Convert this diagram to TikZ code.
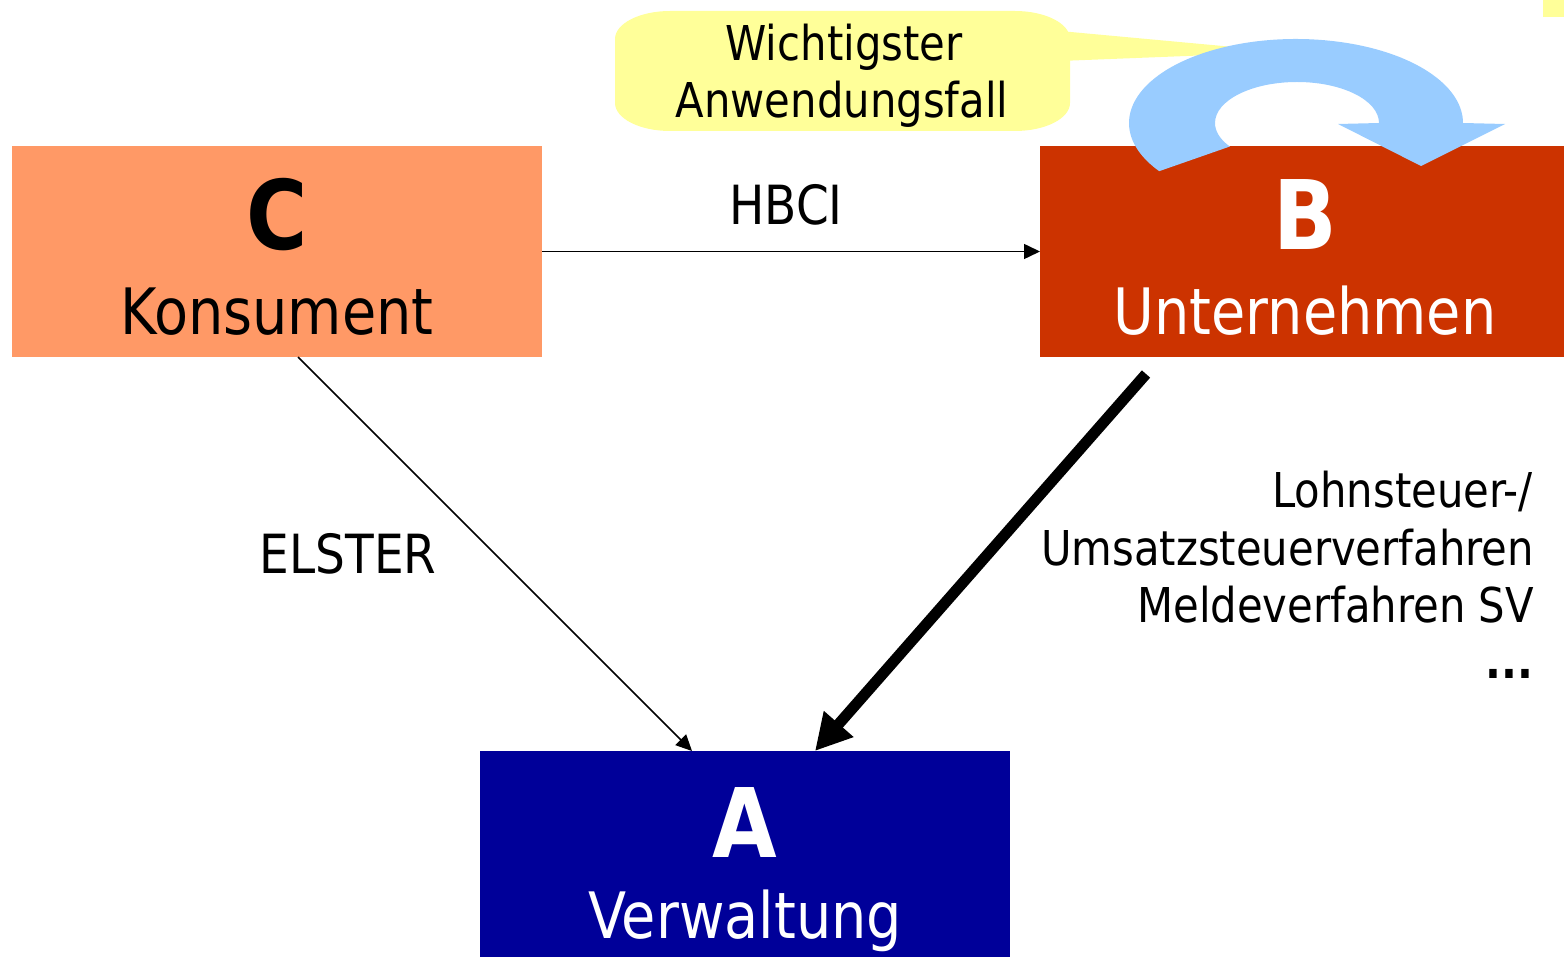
\documentclass[tikz,border=0pt]{standalone}
\usepackage{fontspec}
\setmainfont{DejaVu Sans}[FakeStretch=0.87]
\usetikzlibrary{arrows.meta}
\definecolor{konscol}{HTML}{FF9966}
\definecolor{untcol}{HTML}{CC3300}
\definecolor{vercol}{HTML}{000099}
\definecolor{notecol}{HTML}{FFFF99}
\definecolor{loopcol}{HTML}{99CCFF}
\begin{document}
\begin{tikzpicture}[x=1pt,y=1pt,
  box/.style={inner sep=0pt, outer sep=0pt, draw=none, minimum width=#1},
  lbl/.style={inner sep=0pt, outer sep=0pt, anchor=base},
  rlbl/.style={inner sep=0pt, outer sep=0pt, anchor=base east},
  big/.style={font=\bfseries\fontsize{96}{100}\selectfont},
  mid/.style={font=\fontsize{64}{70}\selectfont},
  sml/.style={font=\fontsize{54}{60}\selectfont},
  tiny/.style={font=\fontsize{48}{54}\selectfont},
  thinarrow/.style={line width=1.5pt, -{Triangle[length=16pt,width=15pt]}},
  thickarrow/.style={line width=11pt, -{Triangle[length=36pt,width=37pt]}}]
\useasboundingbox (0,0) rectangle (1564,-957);
% corner mark
\fill[notecol] (1543,0) rectangle (1564,-17);
% boxes
\node[box=530pt, minimum height=211pt, fill=konscol] (C) at (277,-251.5) {};
\node[box=524pt, minimum height=211pt, fill=untcol] (B) at (1302,-251.5) {};
\node[box=530pt, minimum height=206pt, fill=vercol] (A) at (745,-854) {};
% box texts
\node[lbl, big] (Cl) at (277,-250) {C};
\node[lbl, mid] (Ct) at (277,-335) {Konsument};
\node[lbl, big, text=white] (Bl) at (1305,-250) {B};
\node[lbl, mid, text=white] (Bt) at (1305,-335) {Unternehmen};
\node[lbl, big, text=white] (Al) at (745,-857) {A};
\node[lbl, mid, text=white] (At) at (745,-938) {Verwaltung};
% callout
\fill[notecol] (670,-11) -- (1015,-11)
  arc[start angle=90, end angle=0, x radius=55pt, y radius=28pt]
  -- (1070,-103)
  arc[start angle=0, end angle=-90, x radius=55pt, y radius=28pt]
  -- (670,-131)
  arc[start angle=-90, end angle=-180, x radius=55pt, y radius=28pt]
  -- (615,-39)
  arc[start angle=180, end angle=90, x radius=55pt, y radius=28pt] -- cycle;
\fill[notecol] (1060,-31) -- (1288,-52) -- (1060,-61) -- cycle;
\node[lbl, tiny] (n1) at (844,-61) {Wichtigster};
\node[lbl, tiny] (n2) at (842,-118) {Anwendungsfall};
% loop arrow
\fill[loopcol] (1296,-123) ++(215:167pt and 84pt)
  arc[start angle=215, end angle=0, x radius=167pt, y radius=84pt]
  -- (1505,-124) -- (1421,-166) -- (1338,-124)
  -- (1379,-123)
  arc[start angle=0, end angle=215, x radius=82pt, y radius=41pt] -- cycle;
% connectors
\draw[thinarrow] (C.east) -- (B.west);
\node[lbl, sml] (hbci) at (786,-225) {HBCI};
\coordinate (cs) at ([xshift=21pt]C.south);
\coordinate (an1) at ([xshift=-53pt]A.north);
\draw[thinarrow] (cs) -- (an1);
\node[lbl, sml] (elster) at (348,-573) {ELSTER};
\coordinate (bs) at ([xshift=-156pt,yshift=-17pt]B.south);
\coordinate (an2) at ([xshift=70pt]A.north);
\draw[thickarrow] (bs) -- (an2);
\node[rlbl, tiny] (r1) at (1533,-507) {Lohnsteuer-/};
\node[rlbl, tiny] (r2) at (1534,-565) {Umsatzsteuerverfahren};
\node[rlbl, tiny] (r3) at (1534,-622) {Meldeverfahren SV};
\node[rlbl, tiny] (r4) at (1533,-678) {\bfseries ...};
\end{tikzpicture}
\end{document}
